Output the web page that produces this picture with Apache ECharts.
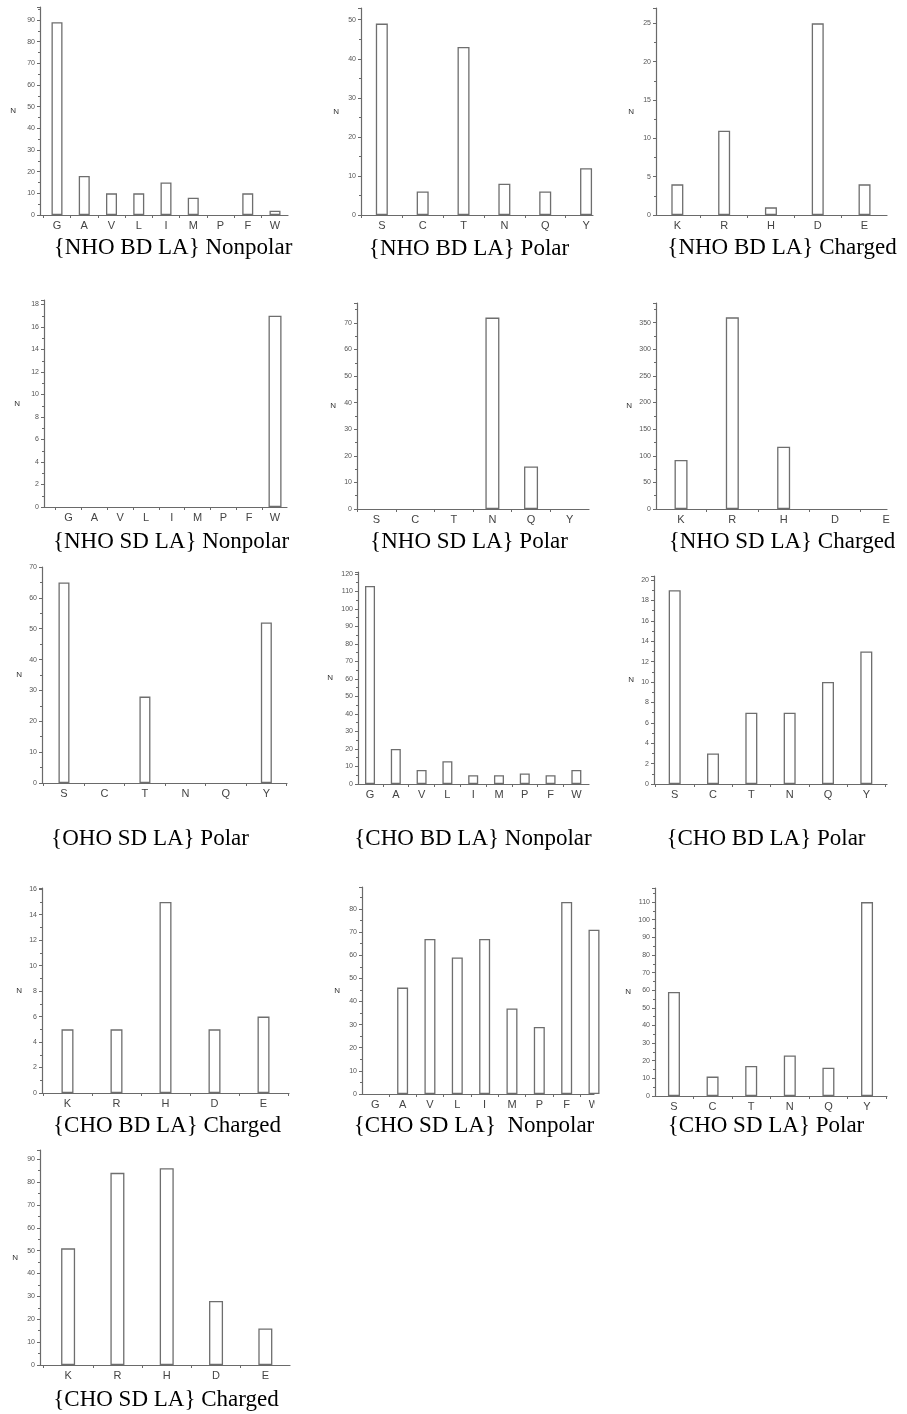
<!DOCTYPE html>
<html>
<head>
<meta charset="utf-8">
<script src="https://cdn.jsdelivr.net/npm/echarts@6/dist/echarts.min.js"></script>
<style>
  html, body { margin: 0; padding: 0; background: #fff; }
  #chart { width: 907px; height: 1414px; }
</style>
</head>
<body>
<div id="chart"></div>
<script>
// Residue groups on the category axes
const nonpolar = ['G', 'A', 'V', 'L', 'I', 'M', 'P', 'F', 'W'];
const polar = ['S', 'C', 'T', 'N', 'Q', 'Y'];
const charged = ['K', 'R', 'H', 'D', 'E'];

// Counts N per residue
const nhoBdNonpolar = [89, 18, 10, 10, 15, 8, 0, 10, 2];
const nhoBdPolar = [49, 6, 43, 8, 6, 12];
const nhoBdCharged = [4, 11, 1, 25, 4];
const nhoSdNonpolar = [0, 0, 0, 0, 0, 0, 0, 0, 17];
const nhoSdPolar = [0, 0, 0, 72, 16, 0];
const nhoSdCharged = [92, 360, 117, 0, 0];
const ohoSdPolar = [65, 0, 28, 0, 0, 52];
const choBdNonpolar = [113, 20, 8, 13, 5, 5, 6, 5, 8];
const choBdPolar = [19, 3, 7, 7, 10, 13];
const choBdCharged = [5, 5, 15, 5, 6];
const choSdNonpolar = [0, 46, 67, 59, 67, 37, 29, 83, 71];
const choSdPolar = [59, 11, 17, 23, 16, 110];
const choSdCharged = [51, 84, 86, 28, 16];

// Panel captions
const captions = [
  '{NHO BD LA} Nonpolar', '{NHO BD LA} Polar', '{NHO BD LA} Charged',
  '{NHO SD LA} Nonpolar', '{NHO SD LA} Polar', '{NHO SD LA} Charged',
  '{OHO SD LA} Polar', '{CHO BD LA} Nonpolar', '{CHO BD LA} Polar',
  '{CHO BD LA} Charged', '{CHO SD LA}  Nonpolar', '{CHO SD LA} Polar',
  '{CHO SD LA} Charged'
];

// Panel layout: plot box (axis origin x, top, end x, baseline y), x extent,
// y extent/step, bar width, caption centre
const panels = [
  { cats: nonpolar, vals: nhoBdNonpolar, x0: 40,  y0: 7,   x1: 288, y1: 215,  xMin: 0.376, xMax: 9.477, yMax: 96,   step: 10, bw: 11, gap: 24, tx: 173, ty: 248 },
  { cats: polar,    vals: nhoBdPolar,    x0: 361, y0: 8,   x1: 593, y1: 215,  xMin: 0.49,  xMax: 6.17,  yMax: 53,   step: 10, bw: 12, gap: 22, tx: 469, ty: 249 },
  { cats: charged,  vals: nhoBdCharged,  x0: 656, y0: 8,   x1: 887, y1: 215,  xMin: 0.544, xMax: 5.48,  yMax: 27,   step: 5,  bw: 12, gap: 22, tx: 782, ty: 248 },
  { cats: nonpolar, vals: nhoSdNonpolar, x0: 44,  y0: 300, x1: 287, y1: 507,  xMin: 0.049, xMax: 9.464, yMax: 18.4, step: 2,  bw: 13, gap: 24, tx: 171, ty: 542 },
  { cats: polar,    vals: nhoSdPolar,    x0: 357, y0: 303, x1: 589, y1: 509,  xMin: 0.496, xMax: 6.5,   yMax: 77.5, step: 10, bw: 14, gap: 21, tx: 469, ty: 542 },
  { cats: charged,  vals: nhoSdCharged,  x0: 656, y0: 303, x1: 887, y1: 509,  xMin: 0.512, xMax: 5.015, yMax: 387,  step: 50, bw: 13, gap: 24, tx: 782, ty: 542 },
  { cats: polar,    vals: ohoSdPolar,    x0: 42,  y0: 567, x1: 287, y1: 783,  xMin: 0.457, xMax: 6.51,  yMax: 70,   step: 10, bw: 11, gap: 20, tx: 150, ty: 839 },
  { cats: nonpolar, vals: choBdNonpolar, x0: 358, y0: 572, x1: 589, y1: 784,  xMin: 0.534, xMax: 9.49,  yMax: 121,  step: 10, bw: 10, gap: 25, tx: 473, ty: 839 },
  { cats: polar,    vals: choBdPolar,    x0: 654, y0: 576, x1: 887, y1: 784,  xMin: 0.46,  xMax: 6.54,  yMax: 20.4, step: 2,  bw: 12, gap: 20, tx: 766, ty: 839 },
  { cats: charged,  vals: choBdCharged,  x0: 42,  y0: 888, x1: 289, y1: 1093, xMin: 0.48,  xMax: 5.52,  yMax: 16.1, step: 2,  bw: 12, gap: 20, tx: 167, ty: 1126 },
  { cats: nonpolar, vals: choSdNonpolar, x0: 362, y0: 887, x1: 594, y1: 1094, xMin: 0.515, xMax: 9.0,   yMax: 89.5, step: 10, bw: 11, gap: 22, tx: 474, ty: 1126 },
  { cats: polar,    vals: choSdPolar,    x0: 655, y0: 888, x1: 887, y1: 1096, xMin: 0.509, xMax: 6.517, yMax: 118,  step: 10, bw: 12, gap: 24, tx: 766, ty: 1126 },
  { cats: charged,  vals: choSdCharged,  x0: 40,  y0: 1150, x1: 290, y1: 1365, xMin: 0.43, xMax: 5.5,   yMax: 94,   step: 10, bw: 14, gap: 22, tx: 166, ty: 1400 }
];

const axisGray = '#6a6a6a';
const labelGray = '#444';
const sans = '"Liberation Sans", Arial, sans-serif';
const serif = '"Liberation Serif", "Times New Roman", serif';

const grid = [], xAxis = [], yAxis = [], series = [], title = [];

panels.forEach((p, i) => {
  grid.push({
    left: p.x0, top: p.y0, width: p.x1 - p.x0, height: p.y1 - p.y0,
    containLabel: false, outerBoundsMode: 'none'
  });

  const n = p.cats.length;
  const catPos = p.cats.map((c, k) => k + 1);
  const between = [];
  for (let k = 1; k < n + 1; k++) {
    if (k + 0.5 < p.xMax) between.push(k + 0.5);
  }
  if (1 - 0.5 > p.xMin) between.unshift(0.5);

  xAxis.push({
    type: 'value', gridIndex: i, min: p.xMin, max: p.xMax,
    splitLine: { show: false },
    axisLine: { show: true, onZero: false, lineStyle: { color: axisGray, width: 1.2 } },
    axisTick: { show: true, customValues: between, length: 3, inside: false, lineStyle: { color: axisGray, width: 1 } },
    axisLabel: {
      customValues: catPos, margin: 5, color: labelGray, fontSize: 11, fontFamily: sans,
      formatter: v => p.cats[Math.round(v) - 1] || ''
    }
  });

  yAxis.push({
    type: 'value', gridIndex: i, min: 0, max: p.yMax, interval: p.step,
    name: 'N', nameLocation: 'middle', nameRotate: 0, nameGap: p.gap,
    nameTextStyle: { fontSize: 8, color: '#333', fontFamily: sans },
    splitLine: { show: false },
    axisLine: { show: true, lineStyle: { color: axisGray, width: 1.2 } },
    axisTick: { show: true, length: 3, lineStyle: { color: axisGray, width: 1 } },
    minorTick: { show: true, splitNumber: 2, length: 2, lineStyle: { color: axisGray, width: 1 } },
    axisLabel: {
      margin: 5, color: '#555', fontSize: 7, fontFamily: sans,
      formatter: v => {
        const r = v / p.step;
        return Math.abs(r - Math.round(r)) < 1e-6 ? String(Math.round(v)) : '';
      }
    }
  });

  // empty counts leave their slot blank instead of a flat outline on the axis
  series.push({
    type: 'bar', xAxisIndex: i, yAxisIndex: i, clip: true,
    barWidth: p.bw,
    itemStyle: { color: '#fff', borderColor: '#6e6e6e', borderWidth: 1.3 },
    data: p.vals.map((v, k) => [k + 1, v === 0 ? '-' : v]),
    silent: true, animation: false
  });

  title.push({
    text: captions[i], left: p.tx, top: p.ty - 12, textAlign: 'center', padding: 0,
    textStyle: { fontFamily: serif, fontSize: 23, fontWeight: 'normal', color: '#000' }
  });
});

const chart = echarts.init(document.getElementById('chart'), null, { renderer: 'canvas' });
chart.setOption({
  animation: false,
  backgroundColor: '#fff',
  title, grid, xAxis, yAxis, series,
  // the lower-middle panel runs into the column edge, which trims its last label
  graphic: [{
    type: 'rect', z: 100, silent: true,
    shape: { x: 594.5, y: 1097, width: 6, height: 18 },
    style: { fill: '#fff' }
  }]
});
</script>
</body>
</html>
